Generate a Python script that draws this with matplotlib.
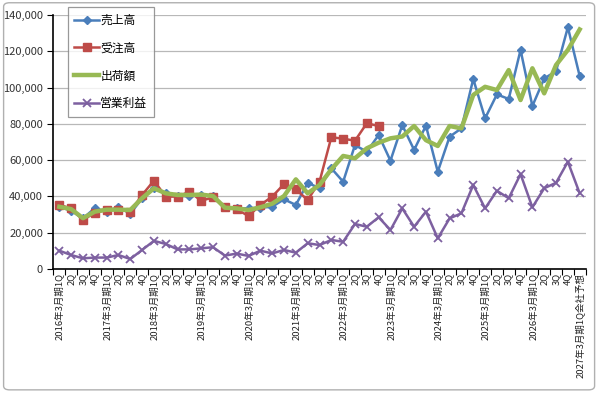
import matplotlib
matplotlib.use("Agg")
import matplotlib.pyplot as plt
import numpy as np
from matplotlib.patches import FancyBboxPatch
from matplotlib.ticker import FuncFormatter, FixedLocator

plt.rcParams['font.family'] = ['Noto Sans CJK JP', 'DejaVu Sans']

years = list(range(2016, 2027))
categories = []
for y in years:
    categories += [f"{y}年3月期1Q", "2Q", "3Q", "4Q"]
categories.append("2027年3月期1Q会社予想")

sales = [34300, 32100, 27900, 33500, 31600, 34300, 30400, 39000, 44500, 41700,
         40200, 40200, 40800, 40200, 34000, 33400, 33400, 33800, 34300, 38400,
         35300, 47500, 44500, 55500, 48100, 68300, 64600, 73800, 59700, 79300,
         65600, 79000, 53600, 72900, 77500, 104700, 83000, 96200, 93700, 120700,
         89800, 105000, 109000, 133200, 106300]

orders = [35300, 33400, 27000, 31000, 32500, 32700, 31600, 40800, 48700, 39900,
          39900, 42600, 37600, 39500, 34000, 32900, 29200, 35300, 39900, 46800,
          43900, 38000, 48100, 72600, 71800, 70700, 80300, 78800]

shipments = [34300, 33000, 28000, 31600, 32700, 32700, 32500, 39000, 44500, 41700,
             40800, 40800, 41000, 40200, 33800, 33400, 32500, 34000, 36000, 40200,
             49400, 41700, 46300, 54900, 62300, 61000, 66500, 69600, 72000, 73000,
             78800, 71000, 67800, 78800, 77500, 95900, 100400, 98600, 109600, 93100,
             110600, 96800, 112400, 120700, 132000]

op_profit = [10100, 7700, 5900, 6300, 6300, 7700, 5500, 10500, 15500, 13800,
             10800, 10800, 11400, 12000, 7400, 8500, 7200, 10100, 8600, 10500,
             9000, 14200, 13200, 16000, 15000, 24800, 23300, 28500, 21500, 33400,
             23300, 31600, 16900, 27900, 30700, 46300, 33400, 43100, 39000, 52300,
             34000, 44500, 47500, 59100, 41700]

series_names = ["売上高", "受注高", "出荷額", "営業利益"]

fig = plt.figure(figsize=(6.0, 3.93), dpi=100)
fig.patches.append(FancyBboxPatch((0.006, 0.008), 0.985, 0.985, boxstyle="round,pad=0,rounding_size=0.01",
                                  transform=fig.transFigure, fill=False, edgecolor="#b0b0b0", linewidth=1.0))
ax = fig.add_axes([0.089, 0.3155, 0.887, 0.6465])

x = np.arange(len(categories))
ax.plot(x, sales, color="#4A7EBB", lw=1.8, marker="D", ms=4.5, label=series_names[0], zorder=3)
ax.plot(x[:len(orders)], orders, color="#BE4B48", lw=1.8, marker="s", ms=5.5, label=series_names[1], zorder=3)
ax.plot(x, shipments, color="#98B954", lw=3.2, label=series_names[2], zorder=4)
ax.plot(x, op_profit, color="#7D60A0", lw=1.8, marker="x", ms=6, mew=1.3, label=series_names[3], zorder=3)

ax.set_xlim(-0.5, len(categories) - 0.5)
ax.set_ylim(0, 140000)
ax.set_yticks(np.arange(0, 140001, 20000))
ax.yaxis.set_major_formatter(FuncFormatter(lambda v, p: f"{int(v):,}"))
ax.grid(axis="y", color="#b8b8b8", lw=0.9)
ax.set_axisbelow(True)

ax.set_xticks(x)
ax.set_xticklabels(categories, rotation=90, fontsize=6.8, va="top", ha="center", color="#222222")
ax.tick_params(axis="x", which="major", length=0, pad=3)
ax.xaxis.set_minor_locator(FixedLocator(np.arange(-0.5, len(categories), 1)))
ax.tick_params(axis="x", which="minor", length=4, width=0.8, direction="out")
ax.tick_params(axis="y", labelsize=8, length=4, width=0.8, direction="out", colors="black", labelcolor="#333333")

for s in ["top", "right"]:
    ax.spines[s].set_visible(False)
for s in ["left", "bottom"]:
    ax.spines[s].set_color("black")
    ax.spines[s].set_linewidth(1.2)

leg = ax.legend(loc="upper left", bbox_to_anchor=(0.027, 1.03), fontsize=8.5, frameon=True,
                fancybox=False, edgecolor="#808080", handlelength=2.1, handletextpad=0.1,
                labelspacing=1.25, borderpad=0.55, borderaxespad=0.0)
leg.get_frame().set_linewidth(0.9)

fig.savefig("out.png", dpi=100)
